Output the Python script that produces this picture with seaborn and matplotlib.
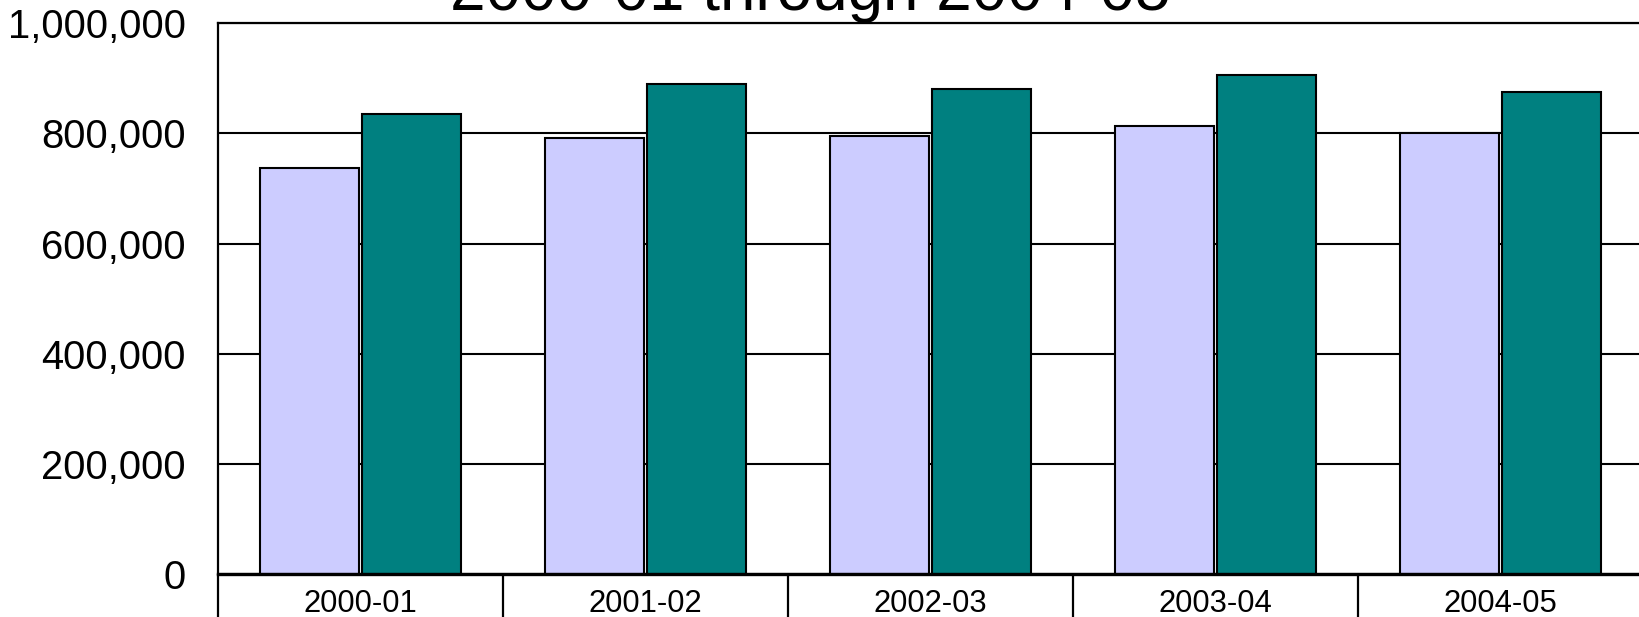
import numpy as np
import pandas as pd
import matplotlib
matplotlib.use('Agg')
import matplotlib.pyplot as plt
import matplotlib.ticker as mticker
import seaborn as sns

years = ['2000-01', '2001-02', '2002-03', '2003-04', '2004-05']
series_a = [738000, 791000, 796000, 813000, 800000]
series_b = [836000, 889000, 880000, 906000, 875000]
series_names = ['Series A', 'Series B']
colors = ['#CCCCFF', '#008080']
y_ticks = [0, 200000, 400000, 600000, 800000, 1000000]

df = pd.DataFrame({
    'year': years * 2,
    'value': series_a + series_b,
    'series': [series_names[0]] * len(years) + [series_names[1]] * len(years),
})

sns.set_style('white')
plt.rcParams['font.family'] = ['Liberation Sans', 'DejaVu Sans']
plt.rcParams['text.color'] = 'black'
plt.rcParams['xtick.color'] = 'black'
plt.rcParams['ytick.color'] = 'black'

fig = plt.figure(figsize=(16.4, 6.17), dpi=100)
ax = fig.add_axes([218 / 1640, 1 - 574 / 617, 1425 / 1640, (574 - 23.3) / 617])

sns.barplot(data=df, x='year', y='value', hue='series', palette=colors,
            width=0.715, gap=0.02, edgecolor='black', linewidth=1.5,
            saturation=1, legend=False, ax=ax)

ax.set_xlim(-0.5, 4.5)
ax.set_ylim(0, 1000000)
ax.set_yticks(y_ticks)
ax.yaxis.set_major_formatter(mticker.FuncFormatter(lambda v, p: f'{int(v):,}'))
ax.yaxis.grid(True, color='black', linewidth=1.5)
ax.set_axisbelow(True)
ax.tick_params(axis='y', left=False, length=0, pad=23, labelsize=28.8, labelcolor='black')

# category boundaries as long ticks, labels on minor ticks
ax.set_xticks(np.arange(-0.5, 5, 1.0))
ax.set_xticklabels([])
ax.set_xticks(np.arange(5), minor=True)
ax.set_xticklabels(years, minor=True)
ax.tick_params(axis='x', which='major', bottom=True, length=45, width=1.6,
               color='black', direction='out')
ax.tick_params(axis='x', which='minor', bottom=True, length=0, pad=11,
               labelsize=22.3, labelcolor='black')

ax.set_xlabel('')
ax.set_ylabel('')
for s in ['left', 'top', 'right', 'bottom']:
    ax.spines[s].set_color('black')
ax.spines['left'].set_linewidth(1.6)
ax.spines['top'].set_linewidth(1.6)
ax.spines['bottom'].set_linewidth(2.4)

fig.text(810 / 1640, 1 - 10 / 617, '2000-01 through 2004-05', ha='center',
         va='baseline', fontsize=46, color='black')

fig.savefig('out.png', dpi=100)
